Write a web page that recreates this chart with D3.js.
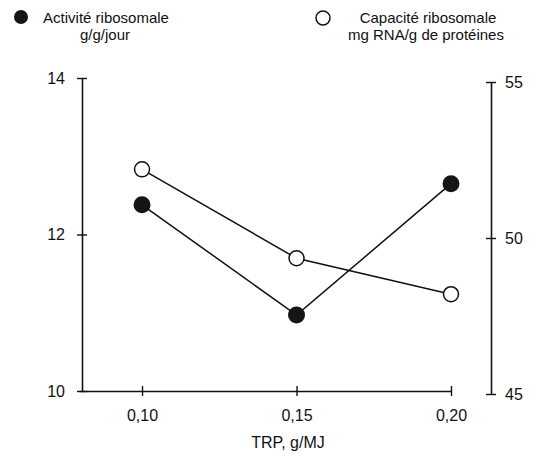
<!DOCTYPE html>
<html>
<head>
<meta charset="utf-8">
<script src="https://cdn.jsdelivr.net/npm/d3@7"></script>
<style>
  body { margin: 0; background: #fff; }
  svg text { font-family: "Liberation Sans", Arial, sans-serif; font-size: 16px; fill: #111; }
  svg text.legend { font-size: 15px; }
</style>
</head>
<body>
<svg id="chart" width="544" height="453"></svg>
<script>
// data
const trpLevels = [0.10, 0.15, 0.20];
const activite = [12.38, 10.97, 12.65];   // g/g/jour, left axis
const capacite = [52.2, 49.35, 48.2];     // mg RNA/g de protéines, right axis
const leftTicks = [10, 12, 14];
const rightTicks = [45, 50, 55];

const svg = d3.select("#chart");

const x = d3.scaleLinear().domain([0.0796, 0.20]).range([79, 451]);
const yLeft = d3.scaleLinear().domain([10, 14]).range([391, 78]);
const yRight = d3.scaleLinear().domain([45, 55]).range([394, 82]);

const fmt = d => d3.format(".2f")(d).replace(".", ",");

// x axis
const xAxis = svg.append("g").attr("transform", "translate(0,391)")
    .call(d3.axisBottom(x).tickValues(trpLevels).tickFormat(fmt).tickSizeInner(5).tickSizeOuter(0).tickPadding(14));
xAxis.select(".domain").attr("stroke-width", 1.6);
xAxis.selectAll(".tick line").attr("y1", -5).attr("stroke-width", 1.4);

// left axis
const leftAxis = svg.append("g").attr("transform", "translate(82,0)")
    .call(d3.axisLeft(yLeft).tickValues(leftTicks).tickFormat(d3.format("d")).tickSizeInner(5).tickSizeOuter(0).tickPadding(12));
leftAxis.select(".domain").attr("stroke-width", 1.6);
leftAxis.selectAll(".tick line").attr("x1", 5).attr("x2", -5).attr("stroke-width", 1.4);

// right axis
const rightAxis = svg.append("g").attr("transform", "translate(491,0)")
    .call(d3.axisRight(yRight).tickValues(rightTicks).tickFormat(d3.format("d")).tickSizeInner(5).tickSizeOuter(0).tickPadding(9));
rightAxis.select(".domain").attr("stroke-width", 1.6);
rightAxis.selectAll(".tick line").attr("x1", -5).attr("x2", 5).attr("stroke-width", 1.4);

svg.selectAll(".domain, .tick line").attr("stroke", "#111");

svg.append("text").attr("x", 288).attr("y", 448).attr("text-anchor", "middle").text("TRP, g/MJ");

// lines
const lineLeft = d3.line().x((d, i) => x(trpLevels[i])).y(d => yLeft(d));
const lineRight = d3.line().x((d, i) => x(trpLevels[i])).y(d => yRight(d));

svg.append("path").datum(capacite).attr("d", lineRight)
    .attr("fill", "none").attr("stroke", "#111").attr("stroke-width", 1.5);
svg.append("path").datum(activite).attr("d", lineLeft)
    .attr("fill", "none").attr("stroke", "#111").attr("stroke-width", 1.5);

// markers
svg.selectAll("circle.open").data(capacite).enter().append("circle")
    .attr("class", "open")
    .attr("cx", (d, i) => x(trpLevels[i])).attr("cy", d => yRight(d)).attr("r", 7.5)
    .attr("fill", "#fff").attr("stroke", "#111").attr("stroke-width", 1.5);
svg.selectAll("circle.filled").data(activite).enter().append("circle")
    .attr("class", "filled")
    .attr("cx", (d, i) => x(trpLevels[i])).attr("cy", d => yLeft(d)).attr("r", 8.5)
    .attr("fill", "#151515");

// legend
svg.append("circle").attr("cx", 21).attr("cy", 17).attr("r", 7).attr("fill", "#151515");
svg.append("text").attr("class", "legend").attr("x", 106).attr("y", 22.5).attr("text-anchor", "middle").text("Activité ribosomale");
svg.append("text").attr("class", "legend").attr("x", 105).attr("y", 40).attr("text-anchor", "middle").text("g/g/jour");

svg.append("circle").attr("cx", 323).attr("cy", 18).attr("r", 7)
    .attr("fill", "#fff").attr("stroke", "#111").attr("stroke-width", 1.5);
svg.append("text").attr("class", "legend").attr("x", 428).attr("y", 22.5).attr("text-anchor", "middle").text("Capacité ribosomale");
svg.append("text").attr("class", "legend").attr("x", 426).attr("y", 40).attr("text-anchor", "middle").text("mg RNA/g de protéines");
</script>
</body>
</html>
